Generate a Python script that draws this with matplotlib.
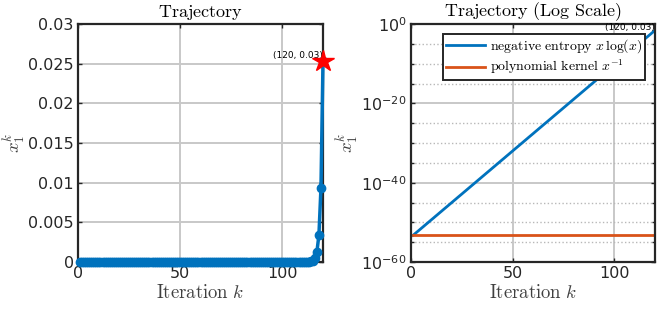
import numpy as np
import matplotlib
matplotlib.use('Agg')
import matplotlib.pyplot as plt
from matplotlib.ticker import FixedLocator, FixedFormatter

# fonts: sans tick labels, LaTeX-like labels through mathtext
plt.rcParams['mathtext.fontset'] = 'cm'
plt.rcParams['font.family'] = 'DejaVu Sans'

BLUE = '#0072BD'
ORANGE = '#D95319'
AX_COLOR = '#262626'

# iterate values (log10 of x_1^k for k = 1..120)
iters = list(range(1, 121))
log10_entropy = [
    -53.28, -52.84, -52.41, -51.98, -51.54, -51.11, -50.67, -50.24, -49.80, -49.37,
    -48.94, -48.50, -48.07, -47.63, -47.20, -46.76, -46.33, -45.90, -45.46, -45.03,
    -44.59, -44.16, -43.72, -43.29, -42.86, -42.42, -41.99, -41.55, -41.12, -40.68,
    -40.25, -39.82, -39.38, -38.95, -38.51, -38.08, -37.64, -37.21, -36.78, -36.34,
    -35.91, -35.47, -35.04, -34.60, -34.17, -33.74, -33.30, -32.87, -32.43, -32.00,
    -31.56, -31.13, -30.70, -30.26, -29.83, -29.39, -28.96, -28.52, -28.09, -27.66,
    -27.22, -26.79, -26.35, -25.92, -25.48, -25.05, -24.62, -24.18, -23.75, -23.31,
    -22.88, -22.44, -22.01, -21.58, -21.14, -20.71, -20.27, -19.84, -19.40, -18.97,
    -18.53, -18.10, -17.67, -17.23, -16.80, -16.36, -15.93, -15.49, -15.06, -14.63,
    -14.19, -13.76, -13.32, -12.89, -12.45, -12.02, -11.59, -11.15, -10.72, -10.28,
    -9.85, -9.41, -8.98, -8.55, -8.11, -7.68, -7.24, -6.81, -6.37, -5.94,
    -5.51, -5.07, -4.64, -4.20, -3.77, -3.33, -2.90, -2.47, -2.03, -1.597,
]
entropy = [10 ** v for v in log10_entropy]

# polynomial kernel iterates stay flat
poly_iters = [1, 120]
poly_vals = [5.2e-54, 5.2e-54]

last_iter = 120
last_val = 0.0253
last_label = '(120, 0.03)'

lin_yticks = [0, 0.005, 0.01, 0.015, 0.02, 0.025, 0.03]
lin_ylabels = ['0', '0.005', '0.01', '0.015', '0.02', '0.025', '0.03']
log_major = [1e-60, 1e-40, 1e-20, 1e0]
log_labels = [r'$\mathregular{10^{-60}}$', r'$\mathregular{10^{-40}}$',
              r'$\mathregular{10^{-20}}$', r'$\mathregular{10^{0}}$']
log_minor = [10.0 ** -e for e in range(5, 60, 5) if e % 20 != 0]

fig = plt.figure(figsize=(6.64, 3.09), dpi=100)
ax1 = fig.add_axes([78 / 664, 47 / 309, 245 / 664, 238 / 309])
ax2 = fig.add_axes([411 / 664, 47 / 309, 244 / 664, 238 / 309])


def style_axes(ax):
    for s in ax.spines.values():
        s.set_color(AX_COLOR)
        s.set_linewidth(1.6)
    ax.tick_params(which='both', direction='in', top=True, right=True,
                   colors=AX_COLOR, labelsize=11.5, pad=3)
    ax.tick_params(which='major', length=3, width=1)
    ax.tick_params(which='minor', length=2, width=1)
    ax.set_xticks([0, 50, 100])
    ax.set_xlim(0, 120)
    ax.grid(True, which='major', color='#c8c8c8', linewidth=1.4)
    ax.set_axisbelow(True)
    ax.set_xlabel(r'$\mathrm{Iteration}\ k$', fontsize=13.5, color='#404040', labelpad=1)
    ax.set_ylabel(r'$x_1^k$', fontsize=13.5, color='#404040', labelpad=0)


# left: linear scale
style_axes(ax1)
ax1.plot(iters, entropy, color=BLUE, linewidth=2.5, marker='o', markersize=6,
         clip_on=False, zorder=3)
ax1.plot([last_iter], [last_val], marker='*', color='#ff0000', markersize=16,
         linestyle='none', clip_on=False, zorder=4)
ax1.text(last_iter, last_val + 0.0002, last_label, ha='right', va='bottom',
         fontsize=6.5, color='black')
ax1.set_ylim(0, 0.03)
ax1.yaxis.set_major_locator(FixedLocator(lin_yticks))
ax1.yaxis.set_major_formatter(FixedFormatter(lin_ylabels))
ax1.set_title(r'$\mathrm{Trajectory}$', fontsize=13, pad=5)

# right: log scale
style_axes(ax2)
ax2.set_yscale('log')
ax2.plot(iters, entropy, color=BLUE, linewidth=2,
         label=r'$\mathrm{negative\ entropy}\ x\,\log(x)$')
ax2.plot(poly_iters, poly_vals, color=ORANGE, linewidth=2,
         label=r'$\mathrm{polynomial\ kernel}\ x^{-1}$')
ax2.text(last_iter, last_val, last_label, ha='right', va='baseline',
         fontsize=6.5, color='black', clip_on=False)
ax2.set_ylim(1e-60, 1e0)
ax2.yaxis.set_major_locator(FixedLocator(log_major))
ax2.yaxis.set_major_formatter(FixedFormatter(log_labels))
ax2.yaxis.set_minor_locator(FixedLocator(log_minor))
ax2.yaxis.set_minor_formatter(FixedFormatter([''] * len(log_minor)))
ax2.grid(True, which='minor', axis='y', color='#b8b8b8', linewidth=1, linestyle=':')
ax2.set_title(r'$\mathrm{Trajectory\ (Log\ Scale)}$', fontsize=13, pad=6)
leg = ax2.legend(loc='upper right', fontsize=10, frameon=True, fancybox=False,
                 borderpad=0.25, handlelength=2.8, handletextpad=0.3,
                 labelspacing=0.2, borderaxespad=0.7)
leg.get_frame().set_edgecolor(AX_COLOR)
leg.get_frame().set_linewidth(1.4)
leg.get_frame().set_alpha(1)

fig.savefig('out.png', dpi=100)
